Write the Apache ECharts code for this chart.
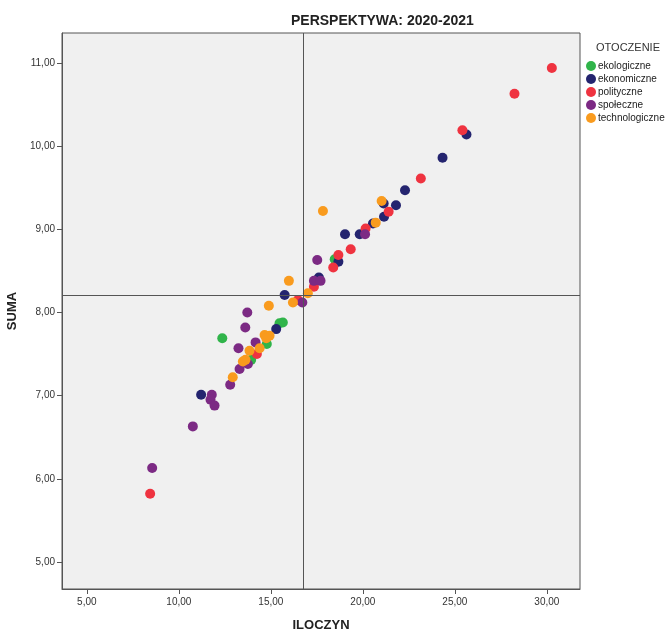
<!DOCTYPE html>
<html>
<head>
<meta charset="utf-8">
<script src="https://cdn.jsdelivr.net/npm/echarts@6/dist/echarts.min.js"></script>
<style>html,body{margin:0;padding:0;background:#fff}#c{width:667px;height:633px}</style>
</head>
<body>
<div id="c"></div>
<script>
const seriesNames = ['ekologiczne', 'ekonomiczne', 'polityczne', 'społeczne', 'technologiczne'];
const colors = ['#30b44a', '#24246f', '#ef3340', '#7c2a84', '#f99b1e'];

const ekologiczne = [[18.47,8.64],[15.65,7.88],[15.47,7.87],[12.36,7.69],[14.78,7.62],[13.93,7.43]];
const ekonomiczne = [[25.63,10.14],[24.33,9.86],[22.29,9.47],[21.80,9.29],[21.13,9.31],[21.15,9.15],[20.55,9.07],[19.83,8.94],[19.03,8.94],[18.67,8.61],[17.61,8.42],[15.75,8.21],[15.29,7.80],[11.21,7.01]];
const polityczne = [[30.27,10.94],[28.24,10.63],[25.41,10.19],[23.15,9.61],[21.40,9.21],[20.15,9.01],[19.34,8.76],[18.67,8.69],[18.39,8.54],[17.34,8.31],[16.47,8.15],[14.24,7.50],[8.44,5.82]];
const spoleczne = [[20.12,8.94],[17.52,8.63],[17.34,8.38],[17.70,8.38],[16.71,8.12],[13.72,8.00],[13.61,7.82],[14.17,7.64],[13.24,7.57],[13.75,7.38],[13.30,7.32],[12.79,7.13],[11.79,7.01],[11.72,6.95],[11.94,6.88],[10.76,6.63],[8.55,6.13]];
const technologiczne = [[21.02,9.34],[20.70,9.08],[17.83,9.22],[15.98,8.38],[17.01,8.23],[16.20,8.12],[14.89,8.08],[14.66,7.73],[14.93,7.72],[14.75,7.69],[14.39,7.57],[13.84,7.54],[13.62,7.43],[13.48,7.41],[12.93,7.22]];
const allData = [ekologiczne, ekonomiczne, polityczne, spoleczne, technologiczne];

const xTicks = [5, 10, 15, 20, 25, 30];
const yTicks = [5, 6, 7, 8, 9, 10, 11];
const refX = 16.78;
const refY = 8.21;

const fmt = v => v.toFixed(2).replace('.', ',');
const font = 'Liberation Sans';

const chart = echarts.init(document.getElementById('c'));
const series = seriesNames.map((n, i) => ({
  name: n,
  type: 'scatter',
  data: allData[i],
  symbolSize: 10,
  z: 3,
  itemStyle: { color: colors[i], opacity: 1 }
}));
series.push({
  type: 'scatter',
  data: [],
  z: 1,
  silent: true,
  markLine: {
    silent: true,
    symbol: 'none',
    label: { show: false },
    lineStyle: { color: '#555', width: 1, type: 'solid' },
    data: [{ xAxis: refX }, { yAxis: refY }]
  }
});

chart.setOption({
  animation: false,
  textStyle: { fontFamily: font },
  title: [
    { text: 'PERSPEKTYWA: 2020-2021', left: 286, top: 9,
      textStyle: { fontSize: 14, fontWeight: 'bold', color: '#222', fontFamily: font } },
    { text: 'OTOCZENIE', left: 591, top: 37,
      textStyle: { fontSize: 11, fontWeight: 'normal', color: '#333', fontFamily: font } }
  ],
  legend: {
    data: seriesNames,
    orient: 'vertical',
    left: 581,
    top: 56,
    icon: 'circle',
    itemWidth: 10,
    itemHeight: 10,
    itemGap: 3,
    textStyle: { fontSize: 10, color: '#222', padding: [0, 0, 0, -3], fontFamily: font }
  },
  grid: { left: 62, right: 87, top: 33, bottom: 44, show: true, outerBoundsMode: 'none', containLabel: false,
    backgroundColor: '#f0f0f0', borderColor: '#555', borderWidth: 1 },
  xAxis: {
    type: 'value', min: 3.65, max: 31.8,
    name: 'ILOCZYN', nameLocation: 'middle', nameGap: 30,
    nameTextStyle: { fontSize: 13, fontWeight: 'bold', color: '#222' },
    axisLine: { show: true, lineStyle: { color: '#555' } },
    axisTick: { show: true, length: 5, customValues: xTicks, lineStyle: { color: '#555' } },
    axisLabel: { customValues: xTicks, formatter: fmt, fontSize: 10, color: '#333', margin: 8 },
    splitLine: { show: false }
  },
  yAxis: {
    type: 'value', min: 4.675, max: 11.36,
    name: 'SUMA', nameLocation: 'middle', nameGap: 38,
    nameTextStyle: { fontSize: 13, fontWeight: 'bold', color: '#222' },
    axisLine: { show: true, lineStyle: { color: '#555' } },
    axisTick: { show: true, length: 5, customValues: yTicks, lineStyle: { color: '#555' } },
    axisLabel: { customValues: yTicks, formatter: fmt, fontSize: 10, color: '#333', margin: 7 },
    splitLine: { show: false }
  },
  series: series
});
</script>
</body>
</html>
